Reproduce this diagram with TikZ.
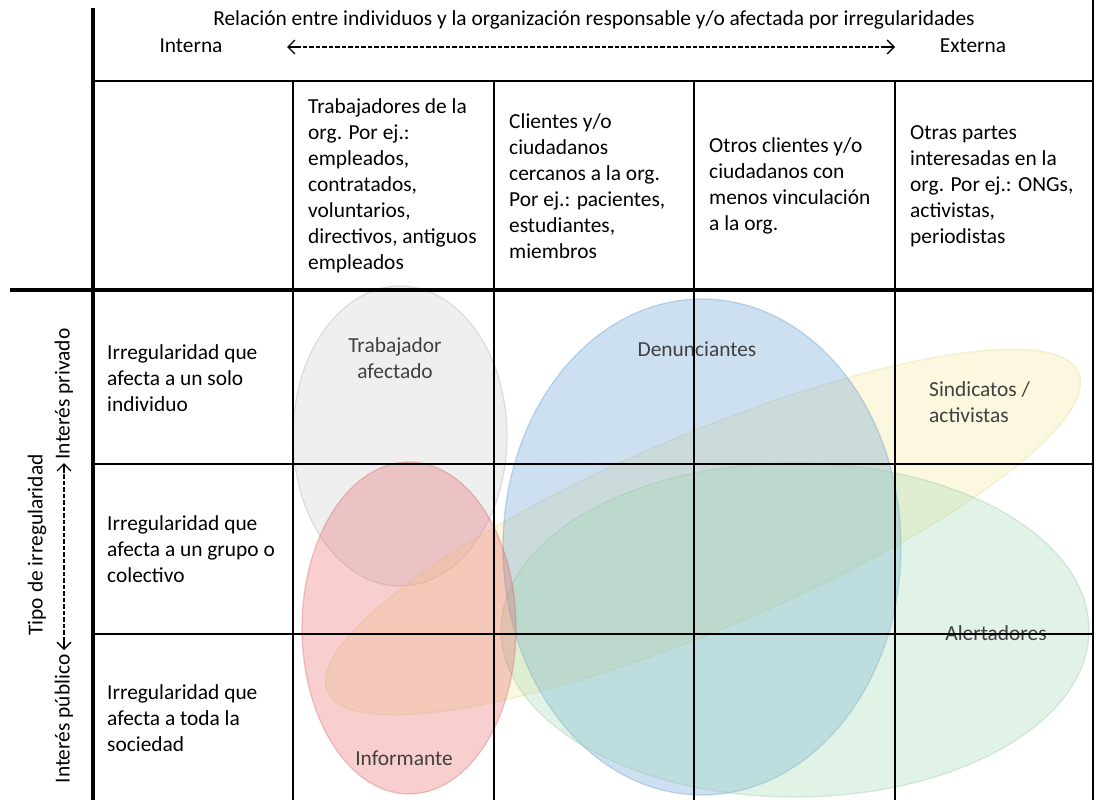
\documentclass[tikz,border=0pt]{standalone}
\usepackage{fontspec}
\setmainfont{Carlito}
\usetikzlibrary{arrows.meta,calc}
\definecolor{cGray}{RGB}{205,205,205}
\definecolor{cRed}{RGB}{232,95,98}
\definecolor{cBlue}{RGB}{91,155,213}
\definecolor{cYellow}{RGB}{248,235,152}
\definecolor{cGreen}{RGB}{158,215,178}
\definecolor{lblText}{RGB}{64,64,64}
\begin{document}
\begin{tikzpicture}[x=1pt,y=-1pt,
  txt/.style={font=\fontsize{21.4}{26}\selectfont, inner sep=0pt, align=left, text=black},
  lbl/.style={font=\fontsize{21.4}{26}\selectfont, inner sep=0pt, align=center, text=lblText},
  thickline/.style={line width=3.5pt, black},
  thinline/.style={line width=2pt, black},
  blob/.style={fill opacity=0.3, draw opacity=0.3, line width=1.3pt},
  dashline/.style={line width=1.2pt, dash pattern=on 4.5pt off 2pt},
  tipline/.style={line width=1.4pt, -{Straight Barb[length=7pt,width=14pt]}}
]
\useasboundingbox (0,0) rectangle (1096,800);
\fill[white] (0,0) rectangle (1096,800);

% ellipses
\draw[blob, fill=cGray, draw=cGray!80!black] (400,436) ellipse [x radius=107, y radius=150];
\draw[blob, fill=cYellow, draw=cYellow!90!black, rotate around={23:(703,532)}] (703,532) ellipse [x radius=408, y radius=97];
\draw[blob, fill=cBlue, draw=cBlue!90!black] (702,547) ellipse [x radius=199, y radius=248];
\draw[blob, fill=cGreen, draw=cGreen!90!black] (795,630) ellipse [x radius=294, y radius=167];
\draw[blob, fill=cRed, draw=cRed!90!black] (409,628) ellipse [x radius=107, y radius=166];

% ellipse labels
\node[lbl] (trab) at (395,358) {Trabajador\\afectado};
\node[lbl] (den) at (697,349) {Denunciantes};
\node[lbl, align=left, anchor=west] (sind) at (929,402) {Sindicatos /\\activistas};
\node[lbl] (alert) at (996,633) {Alertadores};
\node[lbl] (inf) at (404,758) {Informante};

% header
\node[txt] (title) at (594,20) {Relación entre individuos y la organización responsable y/o afectada por irregularidades};
\node[txt] (int) at (191,46) {Interna};
\node[txt] (ext) at (973,46) {Externa};
\coordinate (hA) at (287,47);
\coordinate (hB) at (895,47);
\draw[dashline] ($(hA)!9pt!(hB)$) -- ($(hB)!9pt!(hA)$);
\draw[tipline] ($(hA)!10pt!(hB)$) -- (hA);
\draw[tipline] ($(hB)!10pt!(hA)$) -- (hB);

% column headers
\node[txt, anchor=west] (c1) at (308,186) {Trabajadores de la\\org. Por ej.:\\empleados,\\contratados,\\voluntarios,\\directivos, antiguos\\empleados};
\node[txt, anchor=west] (c2) at (509,186) {Clientes y/o\\ciudadanos\\cercanos a la org.\\Por ej.: pacientes,\\estudiantes,\\miembros};
\node[txt, anchor=west] (c3) at (709,186) {Otros clientes y/o\\ciudadanos con\\menos vinculación\\a la org.};
\node[txt, anchor=west] (c4) at (910,186) {Otras partes\\interesadas en la\\org. Por ej.: ONGs,\\activistas,\\periodistas};

% row headers
\node[txt, anchor=west] (r1) at (107,378) {Irregularidad que\\afecta a un solo\\individuo};
\node[txt, anchor=west] (r2) at (107,549) {Irregularidad que\\afecta a un grupo o\\colectivo};
\node[txt, anchor=west] (r3) at (107,718) {Irregularidad que\\afecta a toda la\\sociedad};

% vertical axis
\node[txt, rotate=90] (tipo) at (37,545) {Tipo de irregularidad};
\node[txt, rotate=90] (pub) at (64,719) {Interés público};
\node[txt, rotate=90] (priv) at (64,394) {Interés privado};
\coordinate (vA) at (64,650);
\coordinate (vB) at (64,463);
\draw[dashline] ($(vA)!9pt!(vB)$) -- ($(vB)!9pt!(vA)$);
\draw[tipline] ($(vA)!10pt!(vB)$) -- (vA);
\draw[tipline] ($(vB)!10pt!(vA)$) -- (vB);

% grid
\draw[thinline] (1093,0) -- (1093,800);
\draw[thinline] (93,81) -- (1093,81);
\foreach \xx in {293,494,694,895} \draw[thinline] (\xx,81) -- (\xx,800);
\foreach \yy in {464,634} \draw[thinline] (93,\yy) -- (1093,\yy);
\draw[thickline] (93,8) -- (93,800);
\draw[thickline] (10,290) -- (1094,290);
\end{tikzpicture}
\end{document}
